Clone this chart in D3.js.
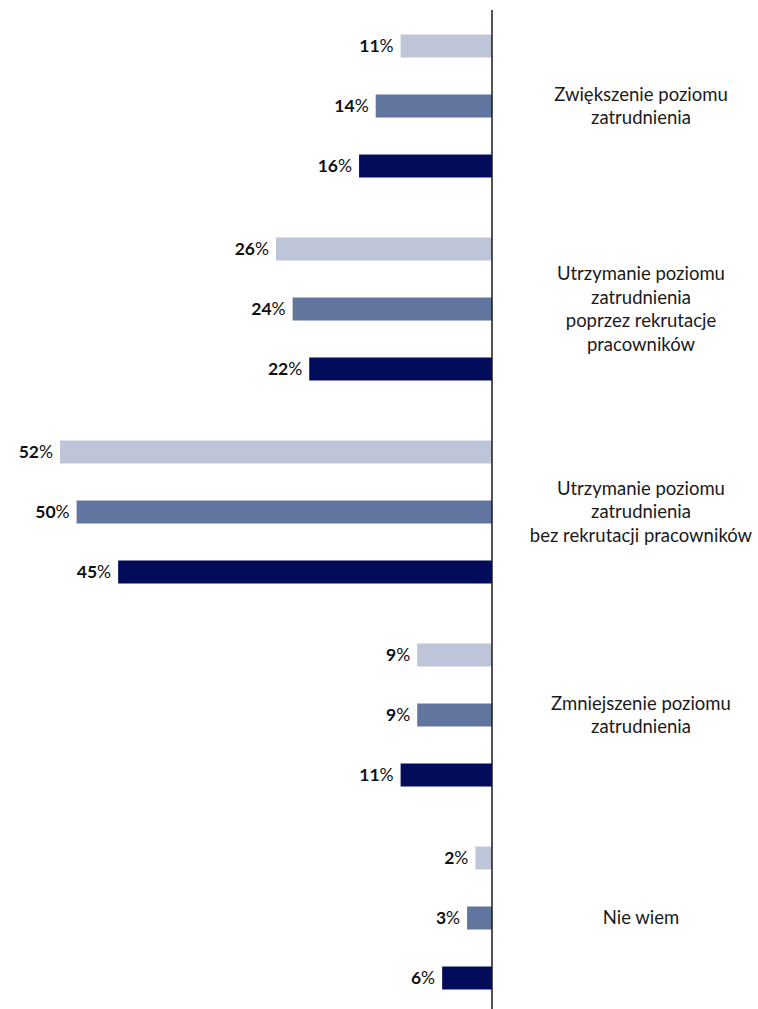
<!DOCTYPE html>
<html>
<head>
<meta charset="utf-8">
<script src="https://cdn.jsdelivr.net/npm/d3@7"></script>
<style>
  html, body { margin: 0; padding: 0; background: #ffffff; }
  svg { display: block; font-family: Lato, "Noto Sans", sans-serif; }
</style>
</head>
<body>
<svg id="chart" width="758" height="1009"></svg>
<script>
// Categories (multi-line labels) and three series per category
const categories = [
  ["Zwiększenie poziomu", "zatrudnienia"],
  ["Utrzymanie poziomu", "zatrudnienia", "poprzez rekrutacje", "pracowników"],
  ["Utrzymanie poziomu", "zatrudnienia", "bez rekrutacji pracowników"],
  ["Zmniejszenie poziomu", "zatrudnienia"],
  ["Nie wiem"]
];
const seriesNames = ["s1", "s2", "s3"];
const seriesColors = ["#bfc5d9", "#62759f", "#020c5b"];
const valuesS1 = [11, 26, 52, 9, 2];
const valuesS2 = [14, 24, 50, 9, 3];
const valuesS3 = [16, 22, 45, 11, 6];

const seriesValues = [valuesS1, valuesS2, valuesS3];
const catKeys = categories.map((c, i) => "c" + i);

const svg = d3.select("#chart");
const axisX = 492;

const x = d3.scaleLinear().domain([0, 52]).range([axisX, 60]);
const yGroup = d3.scaleBand().domain(catKeys).range([4.5, 1019.5]).padding(0);
const ySeries = d3.scalePoint().domain(seriesNames).range([-60, 60]);
const barH = 23;

const rows = [];
catKeys.forEach((k, ci) => {
  seriesNames.forEach((s, si) => {
    rows.push({ cat: k, series: s, si, value: seriesValues[si][ci] });
  });
});

const cy = d => yGroup(d.cat) + yGroup.bandwidth() / 2 + ySeries(d.series);

svg.append("g").selectAll("rect")
  .data(rows)
  .join("rect")
  .attr("x", d => x(d.value))
  .attr("width", d => x(0) - x(d.value))
  .attr("y", d => cy(d) - barH / 2)
  .attr("height", barH)
  .attr("fill", d => seriesColors[d.si]);

// value labels: bold number, regular percent sign
const lbl = svg.append("g").selectAll("text")
  .data(rows)
  .join("text")
  .attr("x", d => x(d.value) - 7)
  .attr("y", d => cy(d))
  .attr("dy", "0.35em")
  .attr("text-anchor", "end")
  .attr("font-size", 17.5)
  .attr("fill", "#111111");
lbl.append("tspan").attr("font-weight", 700).text(d => d.value);
lbl.append("tspan").attr("font-weight", 400).text("%");

// vertical axis line
svg.append("line")
  .attr("x1", axisX).attr("x2", axisX)
  .attr("y1", 10).attr("y2", 1009)
  .attr("stroke", "#1a1a1a")
  .attr("stroke-width", 1.5);

// category labels on the right
const lineH = 23.6;
const catG = svg.append("g").selectAll("text")
  .data(categories)
  .join("text")
  .attr("text-anchor", "middle")
  .attr("font-size", 18.5)
  .attr("fill", "#1a1a1a")
  .attr("x", 641)
  .attr("y", (d, i) => yGroup(catKeys[i]) + yGroup.bandwidth() / 2 - (d.length - 1) * lineH / 2);
catG.selectAll("tspan")
  .data(d => d)
  .join("tspan")
  .attr("x", 641)
  .attr("dy", (t, j) => j === 0 ? "0.35em" : lineH)
  .text(t => t);
</script>
</body>
</html>
